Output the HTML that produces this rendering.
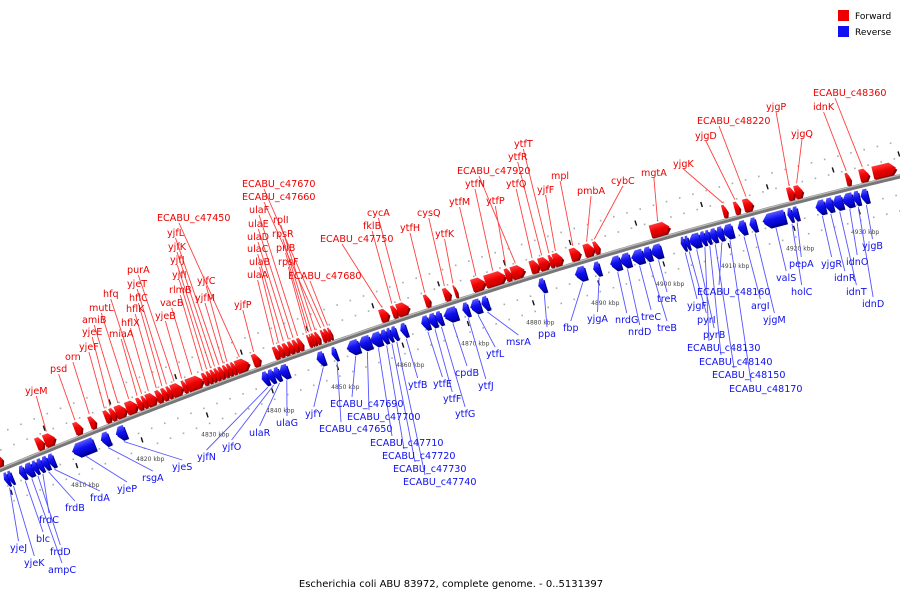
<!DOCTYPE html>
<html><head><meta charset="utf-8"><style>
html,body{margin:0;padding:0;background:#fff;}
svg{display:block;font-family:"DejaVu Sans","Liberation Sans",sans-serif;}
</style></head><body>
<svg id="chart" width="900" height="600" viewBox="0 0 900 600">
<defs>
<linearGradient id="gr" x1="0" y1="0" x2="0" y2="1"><stop offset="0" stop-color="#ff3a3a"/><stop offset="0.5" stop-color="#ee0000"/><stop offset="1" stop-color="#c00000"/></linearGradient>
<linearGradient id="gb" x1="0" y1="0" x2="0" y2="1"><stop offset="0" stop-color="#5a5aff"/><stop offset="0.5" stop-color="#1010f0"/><stop offset="1" stop-color="#0000c0"/></linearGradient>
</defs>
<g id="dots"></g>
<g id="leaders"></g>
<g id="genes"></g>
<g id="backbone"></g>
<g id="labels"></g>
<g>
<rect x="838" y="10" width="11" height="11" fill="#ee0000"/>
<text x="855" y="19" font-size="9" fill="#000">Forward</text>
<rect x="838" y="26" width="11" height="11" fill="#1010f0"/>
<text x="855" y="35" font-size="9" fill="#000">Reverse</text>
</g>
<text x="451" y="587" font-size="10" text-anchor="middle" fill="#000">Escherichia coli ABU 83972, complete genome. - 0..5131397</text>
</svg>
<script>
var fwdStart=[4798.8,4804.9,4806.1,4810.7,4813.0,4815.3,4816.2,4817.0,4818.6,4820.3,4821.1,4821.7,4823.2,4824.1,4824.9,4825.5,4827.2,4827.8,4830.3,4831.0,4831.6,4832.2,4832.8,4833.5,4834.1,4834.7,4835.3,4837.9,4841.1,4841.9,4842.6,4843.4,4844.1,4844.8,4846.3,4846.7,4847.0,4847.5,4848.4,4848.9,4849.5,4857.3,4859.1,4859.9,4864.1,4867.0,4868.6,4871.3,4873.3,4876.4,4877.3,4880.2,4881.5,4883.1,4883.7,4886.3,4888.4,4889.9,4898.5,4909.5,4911.3,4912.7,4919.4,4920.5,4928.3,4930.4,4932.4];
var fwdEnd=[4799.7,4806.0,4807.7,4811.8,4813.9,4816.2,4817.0,4818.6,4820.3,4821.1,4821.7,4823.2,4824.1,4824.9,4825.5,4827.2,4827.8,4830.3,4831.0,4831.6,4832.2,4832.8,4833.5,4834.1,4834.7,4835.3,4837.3,4839.0,4841.9,4842.6,4843.4,4844.1,4844.8,4845.5,4846.7,4847.0,4847.5,4848.1,4848.9,4849.5,4849.9,4858.6,4859.9,4861.7,4864.9,4868.0,4869.0,4873.3,4876.4,4877.3,4879.3,4881.5,4883.1,4883.7,4885.1,4887.8,4889.9,4890.7,4901.4,4910.2,4912.1,4914.1,4920.5,4921.7,4929.0,4931.8,4935.9];
var fwdName=["","","yjeM","psd","orn","yjeF","yjeE","amiB","mutL","miaA","hfq","hflX","hflK","hflC","yjeT","purA","yjeB","vacB","rlmB","yjfI","yjfJ","yjfK","yjfL","yjfM","yjfC","","ECABU_c47450","yjfP","ulaA","ulaB","ulaC","ulaD","ulaE","ulaF","rpsF","priB","rpsR","rplI","ECABU_c47660","ECABU_c47670","ECABU_c47680","ECABU_c47750","fklB","cycA","ytfH","cysQ","ytfK","ytfM","ytfN","ytfP","ECABU_c47920","ytfQ","ytfR","ytfT","yjfF","mpl","pmbA","cybC","mgtA","yjgK","yjgD","ECABU_c48220","yjgP","yjgQ","idnK","ECABU_c48360",""];
var revStart=[4798.8,4799.4,4801.1,4801.9,4803.1,4803.8,4804.6,4805.5,4809.2,4813.6,4815.9,4838.2,4839.1,4840.0,4840.9,4846.6,4848.9,4851.2,4853.0,4854.8,4856.4,4857.3,4858.0,4859.4,4862.6,4863.7,4864.8,4866.0,4868.9,4870.1,4871.8,4880.5,4886.1,4888.9,4891.5,4893.0,4894.7,4896.5,4897.7,4902.3,4902.9,4903.5,4905.2,4906.0,4906.7,4907.7,4908.7,4911.0,4912.8,4914.8,4918.6,4919.3,4922.9,4924.3,4925.5,4927.0,4928.6,4929.8];
var revEnd=[4799.4,4800.0,4801.9,4803.1,4803.8,4804.6,4805.5,4806.4,4812.5,4814.8,4817.3,4839.1,4840.0,4840.9,4842.2,4847.7,4849.6,4853.0,4854.8,4856.4,4857.3,4858.0,4858.8,4860.3,4863.7,4864.8,4865.7,4868.0,4869.8,4871.6,4872.8,4881.5,4887.7,4889.9,4893.0,4894.5,4896.5,4897.7,4899.3,4902.9,4903.5,4905.2,4906.0,4906.7,4907.7,4908.7,4910.2,4912.2,4913.8,4918.2,4919.3,4920.2,4924.3,4925.5,4927.0,4928.6,4929.6,4930.9];
var revName=["yjeJ","yjeK","blc","ampC","frdD","frdC","frdB","frdA","yjeP","rsgA","yjeS","yjfN","yjfO","ulaR","ulaG","yjfY","ECABU_c47650","ECABU_c47690","ECABU_c47700","ECABU_c47710","ECABU_c47720","ECABU_c47730","ECABU_c47740","ytfB","ytfE","ytfF","ytfG","cpdB","ytfJ","ytfL","msrA","ppa","fbp","yjgA","nrdG","nrdD","treC","treB","treR","yjgF","pyrI","pyrB","ECABU_c48130","ECABU_c48140","ECABU_c48150","ECABU_c48160","ECABU_c48170","argI","yjgM","valS","holC","pepA","yjgR","idnR","idnT","idnO","idnD","yjgB"];
var tickKbp=[4810,4820,4830,4840,4850,4860,4870,4880,4890,4900,4910,4920,4930];
var tickLabels=["4810 kbp","4820 kbp","4830 kbp","4840 kbp","4850 kbp","4860 kbp","4870 kbp","4880 kbp","4890 kbp","4900 kbp","4910 kbp","4920 kbp","4930 kbp"];
var fwdLabelPos=[null,null,[25,390],[50,368],[65,356],[79,346],[82,331],[82,319],[89,307],[109,333],[103,293],[121,322],[126,308],[129,297],[127,283],[127,269],[155,315],[160,302],[169,289],[172,274],[170,259],[168,246],[167,232],[195,297],[197,280],null,[157,217],[234,304],[247,274],[249,261],[247,248],[247,236],[248,223],[249,209],[278,261],[276,247],[272,233],[273,219],[242,196],[242,183],[288,275],[320,238],[363,225],[367,212],[400,227],[417,212],[435,233],[449,201],[465,183],[486,200],[457,170],[506,183],[508,156],[514,143],[537,189],[551,175],[577,190],[611,180],[641,172],[673,163],[695,135],[697,120],[766,106],[791,133],[813,106],[813,92],null];
var revLabelPos=[[10,547],[24,562],[36,538],[48,569],[50,551],[39,519],[65,507],[90,497],[117,488],[142,477],[172,466],[197,456],[222,446],[249,432],[276,422],[305,413],[319,428],[330,403],[347,416],[370,442],[382,455],[393,468],[403,481],[408,384],[433,383],[443,398],[455,413],[455,372],[478,385],[486,353],[506,341],[538,333],[563,327],[587,318],[615,319],[628,331],[641,316],[657,327],[657,298],[687,305],[697,319],[703,334],[687,347],[699,361],[712,374],[697,291],[729,388],[751,305],[763,319],[776,277],[791,291],[789,263],[821,263],[834,277],[846,291],[846,261],[862,303],[862,245]];

var NS="http://www.w3.org/2000/svg";
function kx(k){return (k-4798.8)*6.55;}
function cy(x){return 470-0.415*x+0.0000985*x*x;}
function slope(x){return -0.415+0.000197*x;}
function pt(k,off){var x=kx(k),s=slope(x),n=Math.sqrt(1+s*s);return [x+off*s/n, cy(x)-off/n];}
function mk(tag,parent,attrs){var e=document.createElementNS(NS,tag);for(var a in attrs)e.setAttribute(a,attrs[a]);parent.appendChild(e);return e;}

var gBack=document.getElementById('backbone'),gGenes=document.getElementById('genes'),gLead=document.getElementById('leaders'),gLab=document.getElementById('labels'),gDots=document.getElementById('dots');

var d="";for(var x=-5;x<=905;x+=5){d+=(x===-5?"M":"L")+x+","+cy(x).toFixed(2);}
var bb=mk('path',gBack,{d:d,fill:"none",stroke:"#777",'stroke-width':4.5});


var bb2=mk('path',gBack,{d:d,fill:"none",stroke:"#bbb",'stroke-width':1.3,transform:"translate(0,-1.3)"});



for(var k=4798;k<=4938;k+=2){
  [18,34,-18,-34].forEach(function(off){var p=pt(k+(off<0?1:0),off);
    var c=mk('rect',gDots,{x:(p[0]-1).toFixed(1),y:(p[1]-1).toFixed(1),width:1.6,height:1.6,fill:"#aaa"});
    
    });
}
for(var k2=4796.8;k2<=4940;k2+=10){
  var pu=pt(k2,22);var du=mk('line',gDots,{x1:pu[0]-0.8,y1:pu[1]-2.5,x2:pu[0]+0.8,y2:pu[1]+2.5,stroke:"#111",'stroke-width':1.4});
  
  
  var pd=pt(k2+2.3,-25);var dd=mk('line',gDots,{x1:pd[0]-0.8,y1:pd[1]-2.5,x2:pd[0]+0.8,y2:pd[1]+2.5,stroke:"#111",'stroke-width':1.4});
  
  
}
tickKbp.forEach(function(k,i){var p=pt(k-0.8,-46);
  var t=mk('text',gDots,{x:p[0].toFixed(1),y:(p[1]+2).toFixed(1),'font-size':6,'text-anchor':"middle",fill:"#444"});
  t.textContent=tickLabels[i];
  
  });

function drawGene(k0,k1,strand){
  var x0=kx(k0),x1=kx(k1),xm=(x0+x1)/2,s=slope(xm),ang=Math.atan(s)*180/Math.PI;
  var L=(x1-x0)*Math.sqrt(1+s*s);var h=13,off=3;var a=Math.min(6,L*0.45);
  var g=mk('g',gGenes,{transform:"translate("+x0.toFixed(2)+","+cy(x0).toFixed(2)+") rotate("+ang.toFixed(2)+")"});
  var top,bot;if(strand>0){top=-off-h;bot=-off;}else{top=off+1;bot=off+1+h;}
  var mid=(top+bot)/2,pts;
  if(strand>0)pts=[[0,top],[L-a,top],[L,mid],[L-a,bot],[0,bot]];
  else pts=[[a,top],[L,top],[L,bot],[a,bot],[0,mid]];
  var ps=pts.map(function(q){return q[0].toFixed(2)+","+q[1].toFixed(2);}).join(" ");
  var sh=mk('polygon',g,{points:ps,fill:strand>0?"#8a0000":"#000090",transform:"translate(1,2.5)"});
  
  
  var body=mk('polygon',g,{points:ps,fill:strand>0?"url(#gr)":"url(#gb)"});
  
  
}
function drawLabel(name,pos,k0,k1,strand){
  var col=strand>0?"#ee0000":"#1010f0";
  var t=mk('text',gLab,{x:pos[0],y:pos[1]+4,'font-size':9.6,fill:col});
  t.textContent=name;
  
  
  var w=t.getComputedTextLength?t.getComputedTextLength():name.length*6;
  var lx=pos[0]+Math.min(w/2,22);
  var p=pt((k0+k1)/2,strand>0?18:-20);
  var ly=strand>0?pos[1]+6:pos[1]-6;
  var l=mk('line',gLead,{x1:lx.toFixed(1),y1:ly,x2:p[0].toFixed(1),y2:p[1].toFixed(1),stroke:strand>0?"#ff4040":"#5555ff",'stroke-width':0.9});
  
  
}
fwdStart.forEach(function(k,i){drawGene(k,fwdEnd[i],1);});
revStart.forEach(function(k,i){drawGene(k,revEnd[i],-1);});
fwdName.forEach(function(n,i){if(n&&fwdLabelPos[i])drawLabel(n,fwdLabelPos[i],fwdStart[i],fwdEnd[i],1);});
revName.forEach(function(n,i){if(n&&revLabelPos[i])drawLabel(n,revLabelPos[i],revStart[i],revEnd[i],-1);});
</script>
</body></html>
